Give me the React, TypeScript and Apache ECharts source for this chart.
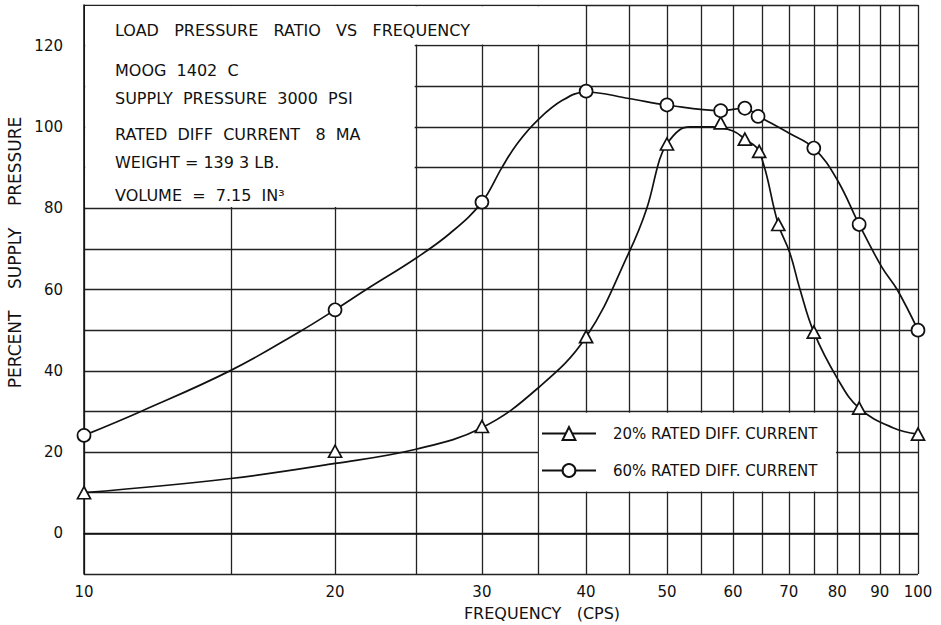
import React, { useEffect, useRef } from 'react';
import * as echarts from 'echarts';

const xGridValues = [10, 15, 20, 25, 30, 35, 40, 45, 50, 55, 60, 65, 70, 75, 80, 85, 90, 95, 100];
const xLabelValues = [10, 20, 30, 40, 50, 60, 70, 80, 90, 100];
const yLabelValues = [0, 20, 40, 60, 80, 100, 120];

const seriesNames = ['20% RATED DIFF. CURRENT', '60% RATED DIFF. CURRENT'];

// measured points (markers)
const points20 = [[10, 10], [20, 20.2], [30, 26.3], [40, 48.4], [50, 95.8], [58, 101], [62, 97], [64.5, 94], [68, 76], [75, 49.5], [85, 30.8], [100, 24.4]];
const points60 = [[10, 24.1], [20, 55], [30, 81.5], [40, 108.8], [50, 105.4], [58, 104], [62, 104.6], [64.3, 102.6], [75, 94.8], [85, 76], [100, 50]];

// faired curves
const curve20 = [[10, 10], [15, 13.5], [20, 17.2], [25, 20.7], [30, 26], [35, 35.7], [40, 48.3], [45, 69], [47.3, 80], [49, 92], [50, 95.8], [51.8, 99.3], [53.3, 100], [56.6, 100], [60, 99], [62, 97], [64.5, 94], [68, 76], [70.2, 69], [72.2, 60], [75, 49.5], [80, 38.2], [85, 30.8], [93.3, 26], [100, 24.4]];
const curve60 = [[10, 24.1], [11.7, 30], [15, 40.1], [18.2, 49.8], [20, 55], [21.8, 60], [25, 67.7], [27.5, 73.9], [30, 81.5], [31.7, 90], [33.1, 96], [35, 101.7], [37.5, 106.6], [40, 108.6], [45, 107], [50, 105.4], [58, 104], [62, 104.6], [64.3, 102.7], [70, 98.5], [75, 94.8], [80, 87], [85, 76], [90.5, 65.5], [94.4, 60], [100, 50]];

const infoLines = [
  'LOAD   PRESSURE   RATIO   VS   FREQUENCY',
  'MOOG  1402  C',
  'SUPPLY  PRESSURE  3000  PSI',
  'RATED  DIFF  CURRENT   8  MA',
  'WEIGHT = 139 3 LB.',
  'VOLUME  =  7.15  IN³',
];

const FONT = 'DejaVu Sans';
const INK = '#111';

export default function App() {
  const ref = useRef<HTMLDivElement>(null);
  useEffect(() => {
    if (!ref.current) return;
    const chart = echarts.init(ref.current, null, { renderer: 'svg' });
    const markerStyle = { color: '#fff', borderColor: INK, borderWidth: 1.7, opacity: 1 };
    const lineStyle = { color: INK, width: 1.7 };
    chart.setOption({
      animation: false,
      backgroundColor: '#fff',
      textStyle: { fontFamily: FONT, color: INK },
      grid: { left: 84, right: 23, top: 5, bottom: 51, containLabel: false, outerBoundsMode: 'none' },
      xAxis: {
        type: 'log',
        logBase: 10,
        min: 10,
        max: 100,
        name: 'FREQUENCY   (CPS)',
        nameLocation: 'middle',
        nameGap: 31,
        nameTextStyle: { fontSize: 16, color: INK, fontFamily: FONT, padding: [0, 0, 0, 82] },
        axisLine: { show: true, lineStyle: { color: INK, width: 1.5 } },
        axisTick: { show: false, customValues: xGridValues },
        axisLabel: { customValues: xLabelValues, fontSize: 15, color: INK, margin: 10, formatter: (v: number) => String(Math.round(v)) },
        splitLine: { show: true, lineStyle: { color: '#222', width: 1.3 } },
        minorSplitLine: { show: false },
      },
      yAxis: {
        type: 'value',
        min: -10,
        max: 130,
        interval: 10,
        name: 'PERCENT    SUPPLY    PRESSURE',
        nameLocation: 'middle',
        nameGap: 57,
        nameTextStyle: { fontSize: 17, color: INK, fontFamily: FONT, padding: [0, 0, 0, 74] },
        axisLine: { show: true, lineStyle: { color: INK, width: 1.5 } },
        axisTick: { show: false },
        axisLabel: { customValues: yLabelValues, fontSize: 15, color: INK, margin: 21 },
        splitLine: { show: true, lineStyle: { color: '#222', width: 1.3 } },
      },
      legend: {
        data: seriesNames,
        orient: 'vertical',
        left: 541,
        top: 426,
        padding: 0,
        itemWidth: 54,
        itemHeight: 16,
        itemGap: 22,
        selectedMode: false,
        textStyle: { fontSize: 15, color: INK, fontFamily: FONT, padding: [0, 0, 0, 12] },
      },
      series: [
        { name: seriesNames[0], type: 'line', data: curve20, smooth: 0.4, symbol: 'triangle', showSymbol: false, lineStyle, itemStyle: markerStyle, z: 2, silent: true },
        { name: seriesNames[0], type: 'scatter', data: points20, symbol: 'triangle', symbolSize: [13, 12], itemStyle: markerStyle, z: 3 },
        { name: seriesNames[1], type: 'line', data: curve60, smooth: 0.4, symbol: 'circle', showSymbol: false, lineStyle, itemStyle: markerStyle, z: 2, silent: true },
        { name: seriesNames[1], type: 'scatter', data: points60, symbol: 'circle', symbolSize: 13, itemStyle: markerStyle, z: 3 },
      ],
    });

    const rectFor = (x1: number, y1: number, x2: number, y2: number) => {
      const p1 = chart.convertToPixel({ gridIndex: 0 }, [x1, y2]) as number[];
      const p2 = chart.convertToPixel({ gridIndex: 0 }, [x2, y1]) as number[];
      return {
        type: 'rect', silent: true, z: 1,
        shape: { x: p1[0] + 1.2, y: p1[1] + 1.2, width: p2[0] - p1[0] - 2.4, height: p2[1] - p1[1] - 2.4 },
        style: { fill: '#fff' },
      };
    };
    const infoY = [30, 70, 98, 134, 162, 195.5];
    chart.setOption({
      graphic: [
        rectFor(10, 80, 25, 130),
        rectFor(10, 120, 40, 130),
        rectFor(35, 10, 80, 30),
        ...infoLines.map((t, i) => ({
          type: 'text', z: 5, silent: true, x: 115, y: infoY[i],
          style: { text: t, fontSize: 16, fontFamily: FONT, fill: INK, verticalAlign: 'middle', align: 'left' },
        })),
      ],
    });
    return () => chart.dispose();
  }, []);
  return <div ref={ref} style={{ position: 'fixed', left: 0, top: 0, width: 941, height: 625 }} />;
}
